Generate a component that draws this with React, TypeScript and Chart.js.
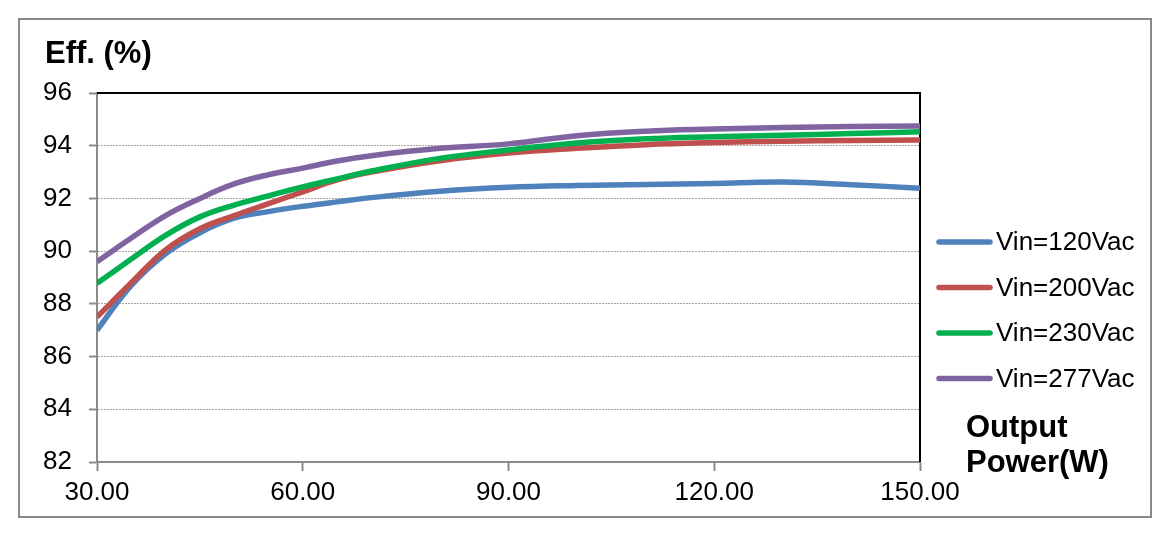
import React, { useEffect, useRef } from 'react';
import { Chart, registerables } from 'chart.js';

Chart.register(...registerables);

const powerW = [30, 35, 40, 45, 50, 55, 60, 65, 70, 80, 90, 100, 110, 120, 130, 140, 150];
const eff120 = [87.0, 88.7, 89.9, 90.7, 91.25, 91.5, 91.7, 91.87, 92.03, 92.27, 92.42, 92.49, 92.53, 92.57, 92.62, 92.52, 92.39];
const eff200 = [87.5, 88.8, 90.05, 90.85, 91.35, 91.8, 92.25, 92.7, 93.0, 93.43, 93.72, 93.9, 94.04, 94.12, 94.17, 94.2, 94.22];
const eff230 = [88.78, 89.7, 90.6, 91.3, 91.75, 92.1, 92.44, 92.74, 93.04, 93.52, 93.84, 94.1, 94.26, 94.34, 94.4, 94.46, 94.53];
const eff277 = [89.6, 90.5, 91.35, 92.0, 92.55, 92.9, 93.15, 93.42, 93.62, 93.9, 94.07, 94.38, 94.55, 94.63, 94.69, 94.73, 94.75];

const seriesLabels = ['Vin=120Vac', 'Vin=200Vac', 'Vin=230Vac', 'Vin=277Vac'];
const seriesColors = ['#4F81BD', '#C0504D', '#00B050', '#8064A2'];

const FONT = "Arial, 'Liberation Sans', sans-serif";

// frame, axis titles and legend drawn by hand
const decorations = {
  id: 'decorations',
  beforeDraw(chart: Chart) {
    const ctx = chart.ctx;
    ctx.save();
    ctx.fillStyle = '#ffffff';
    ctx.fillRect(0, 0, chart.width, chart.height);
    ctx.strokeStyle = '#8a8a8a';
    ctx.lineWidth = 2;
    ctx.strokeRect(19, 19, 1132, 498);
    ctx.restore();
  },
  beforeDatasetsDraw(chart: Chart) {
    const { ctx, chartArea } = chart;
    ctx.save();
    ctx.strokeStyle = '#000';
    ctx.lineWidth = 2;
    ctx.beginPath();
    ctx.moveTo(chartArea.left, chartArea.top);
    ctx.lineTo(chartArea.right, chartArea.top);
    ctx.lineTo(chartArea.right, chartArea.bottom);
    ctx.stroke();
    ctx.restore();
  },
  afterDraw(chart: Chart) {
    const ctx = chart.ctx;
    ctx.save();
    ctx.fillStyle = '#000';
    ctx.textAlign = 'left';
    ctx.textBaseline = 'alphabetic';
    ctx.font = `bold 31px ${FONT}`;
    ctx.fillText('Eff. (%)', 45, 63);
    ctx.fillText('Output', 966, 437);
    ctx.fillText('Power(W)', 966, 472);

    ctx.font = `26px ${FONT}`;
    ctx.textBaseline = 'middle';
    chart.data.datasets.forEach((ds, i) => {
      const y = 242 + i * 45.5;
      ctx.strokeStyle = ds.borderColor as string;
      ctx.lineWidth = 5.5;
      ctx.lineCap = 'round';
      ctx.beginPath();
      ctx.moveTo(939, y);
      ctx.lineTo(990, y);
      ctx.stroke();
      ctx.fillStyle = '#000';
      ctx.fillText(ds.label as string, 996, y + 1);
    });
    ctx.restore();
  },
};

export default function App() {
  const canvasRef = useRef<HTMLCanvasElement>(null);
  const chartRef = useRef<Chart | null>(null);

  useEffect(() => {
    if (!canvasRef.current) return;
    if (chartRef.current) chartRef.current.destroy();

    const allSeries = [eff120, eff200, eff230, eff277];

    chartRef.current = new Chart(canvasRef.current, {
      type: 'line',
      data: {
        datasets: allSeries.map((values, i) => ({
          label: seriesLabels[i],
          data: values.map((v, j) => ({ x: powerW[j], y: v })),
          borderColor: seriesColors[i],
          backgroundColor: seriesColors[i],
          borderWidth: 5.5,
          pointRadius: 0,
          tension: 0.4,
          fill: false,
          order: 3 - i,
        })),
      },
      options: {
        responsive: false,
        animation: false,
        layout: { padding: { top: 93, right: 241, left: 0, bottom: 0 } },
        plugins: {
          legend: { display: false },
          tooltip: { enabled: false },
        },
        scales: {
          x: {
            type: 'linear',
            min: 30,
            max: 150,
            afterFit: (scale: any) => {
              scale.height = 74;
            },
            ticks: {
              stepSize: 30,
              color: '#000',
              font: { family: FONT, size: 26 },
              padding: 6,
              maxRotation: 0,
              callback: (v: any) => Number(v).toFixed(2),
            },
            grid: {
              drawOnChartArea: false,
              drawTicks: true,
              tickLength: 9,
              tickColor: '#8a8a8a',
              tickWidth: 2,
            },
            border: { color: '#8a8a8a', width: 2 },
          },
          y: {
            min: 82,
            max: 96,
            afterFit: (scale: any) => {
              scale.width = 97;
            },
            ticks: {
              stepSize: 2,
              color: '#000',
              font: { family: FONT, size: 26 },
              padding: 17,
            },
            grid: {
              color: (c: any) => (c.tick && (c.tick.value === 96 || c.tick.value === 82) ? 'rgba(0,0,0,0)' : '#a6a6a6'),
              lineWidth: 1,
              tickLength: 8,
              tickColor: '#8a8a8a',
              tickWidth: 2,
            },
            border: { color: '#8a8a8a', width: 2, dash: [2, 1] },
          },
        },
      },
      plugins: [decorations],
    });

    return () => {
      if (chartRef.current) {
        chartRef.current.destroy();
        chartRef.current = null;
      }
    };
  }, []);

  return (
    <div style={{ position: 'absolute', left: 0, top: 0, width: 1161, height: 536, background: '#fff' }}>
      <canvas ref={canvasRef} width={1161} height={536}></canvas>
    </div>
  );
}
